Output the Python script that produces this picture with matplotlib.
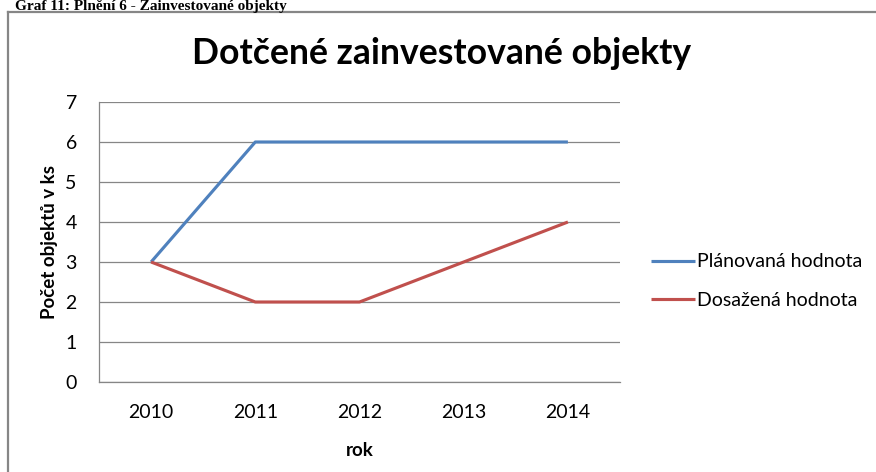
import matplotlib
matplotlib.use("Agg")
import matplotlib.pyplot as plt
from matplotlib.lines import Line2D

# --- data ---
years = ["2010", "2011", "2012", "2013", "2014"]
planned = [3, 6, 6, 6, 6]
achieved = [3, 2, 2, 3, 4]

BLUE = "#4F81BD"
RED = "#C0504D"
GRAY = "#868686"
FONT = "Lato"

W, H = 876, 472
fig = plt.figure(figsize=(W / 100, H / 100), dpi=100)

# plot area in pixels: x 99..620, y 102..382
ax = fig.add_axes([99 / W, 1 - 382 / H, (620 - 99) / W, (382 - 102) / H])

x = range(len(years))
ax.plot(x, planned, color=BLUE, lw=2.25, label="Plánovaná hodnota", solid_capstyle="butt")
ax.plot(x, achieved, color=RED, lw=2.25, label="Dosažená hodnota", solid_capstyle="butt")

ax.set_xlim(-0.5, len(years) - 0.5)
ax.set_ylim(0, 7)
ax.set_yticks(range(0, 8))
ax.set_xticks(list(x))
ax.set_xticklabels(years)
ax.tick_params(length=0, labelsize=14, colors="#000000")
for lab in ax.get_xticklabels() + ax.get_yticklabels():
    lab.set_family(FONT)
ax.tick_params(axis="x", pad=16)
ax.tick_params(axis="y", pad=16)

ax.grid(axis="y", color=GRAY, lw=0.9)
ax.set_axisbelow(True)
for s in ["top", "right"]:
    ax.spines[s].set_visible(False)
for s in ["left", "bottom"]:
    ax.spines[s].set_color(GRAY)
    ax.spines[s].set_linewidth(0.9)

ax.set_xlabel("rok", family=FONT, fontsize=13.5, fontweight="bold", labelpad=15)
ax.set_ylabel("Počet objektů v ks", family=FONT, fontsize=13.5, fontweight="bold", labelpad=5)

# title
fig.text(442 / W, 1 - 64 / H, "Dotčené zainvestované objekty", family=FONT,
         fontsize=25.6, fontweight="bold", ha="center", va="baseline")

# legend
ax.legend(loc="center left", bbox_to_anchor=(651 / W, 1 - 281 / H),
          bbox_transform=fig.transFigure, frameon=False, borderpad=0,
          borderaxespad=0, handlelength=2.27, handletextpad=0.1,
          labelspacing=1.1, prop={"family": FONT, "size": 14})

# chart frame (cut off at right and bottom)
fig.add_artist(Line2D([8 / W, 8 / W], [1 - 12 / H, 0], color=GRAY, lw=1.6,
                      transform=fig.transFigure))
fig.add_artist(Line2D([8 / W, 1], [1 - 12 / H, 1 - 12 / H], color=GRAY, lw=1.6,
                      transform=fig.transFigure))

# document caption above the chart frame
fig.text(15 / W, 1 - 10 / H, "Graf 11: Plnění 6 - Zainvestované objekty",
         family="Liberation Serif", fontweight="bold", fontsize=11,
         ha="left", va="baseline")

fig.savefig("out.png", dpi=100)
